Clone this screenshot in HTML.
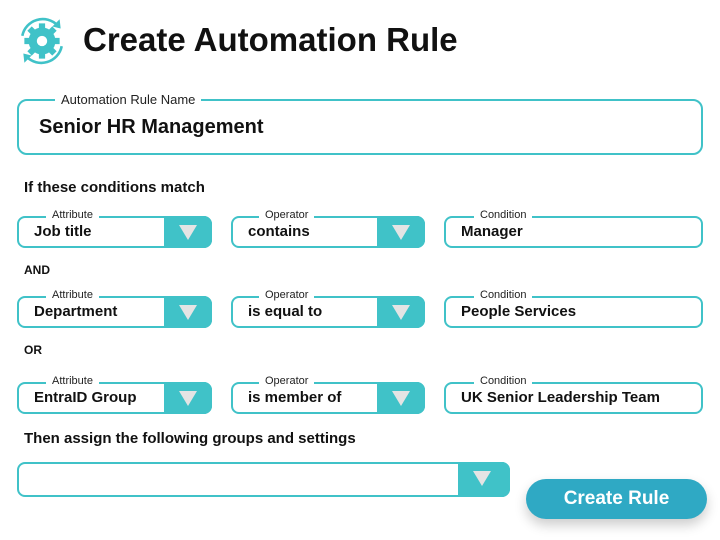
<!DOCTYPE html>
<html><head><style>
body{margin:0;width:720px;height:540px;background:#fff;font-family:"Liberation Sans",sans-serif;position:relative;overflow:hidden;color:#111}
.a{position:absolute}
.box{position:absolute;border:2px solid #40c2c8;border-radius:8px;box-sizing:border-box;background:#fff}
.lab{position:absolute;background:#fff;padding:0 6px;font-size:11px;color:#222;top:-9px}
.val{position:absolute;left:15px;font-weight:bold;font-size:15px;top:5px}
.dd{position:absolute;right:-2px;top:-2px;bottom:-2px;width:48px;background:#40c2c8;border-radius:0 8px 8px 0}
.dd:after{content:"";position:absolute;left:15px;top:9px;border-left:9px solid transparent;border-right:9px solid transparent;border-top:15px solid #e4e4e4}
.h{position:absolute;left:24px;font-weight:bold;font-size:15px}
.s{position:absolute;left:24px;font-weight:bold;font-size:12px}
</style></head><body>
<svg class="a" style="left:14px;top:13px" width="56" height="56" viewBox="0 0 54 54">
<g fill="#40c2c8"><circle cx="27" cy="27" r="13"/>
<g stroke="#40c2c8" stroke-width="6"><line x1="27" y1="10" x2="27" y2="44"/><line x1="10" y1="27" x2="44" y2="27"/><line x1="15" y1="15" x2="39" y2="39"/><line x1="39" y1="15" x2="15" y2="39"/></g></g>
<circle cx="27" cy="27" r="5" fill="#fff"/>
<path d="M8 22 A20 20 0 0 1 42 12" fill="none" stroke="#40c2c8" stroke-width="2.5"/>
<path d="M46 32 A20 20 0 0 1 12 42" fill="none" stroke="#40c2c8" stroke-width="2.5"/>
<path d="M44 6 L45 15 L37 13Z M10 48 L9 39 L17 41Z" fill="#40c2c8"/>
</svg>
<div class="a" style="left:83px;top:21px;font-size:33px;font-weight:bold">Create Automation Rule</div>
<div class="box" style="left:17px;top:99px;width:686px;height:56px;border-radius:10px"><div class="lab" style="left:36px;font-size:13px">Automation Rule Name</div><div class="val" style="left:20px;top:15px;font-size:20px">Senior HR Management</div></div>
<div class="h" style="top:179px">If these conditions match</div>
<div class="s" style="top:263px">AND</div>
<div class="s" style="top:343px">OR</div>
<div class="h" style="top:430px">Then assign the following groups and settings</div>

<div class="box" style="left:17px;top:216px;width:195px;height:32px"><div class="lab" style="left:27px">Attribute</div><div class="val">Job title</div><div class="dd"></div></div>
<div class="box" style="left:231px;top:216px;width:194px;height:32px"><div class="lab" style="left:26px">Operator</div><div class="val">contains</div><div class="dd"></div></div>
<div class="box" style="left:444px;top:216px;width:259px;height:32px"><div class="lab" style="left:28px">Condition</div><div class="val">Manager</div></div>

<div class="box" style="left:17px;top:296px;width:195px;height:32px"><div class="lab" style="left:27px">Attribute</div><div class="val">Department</div><div class="dd"></div></div>
<div class="box" style="left:231px;top:296px;width:194px;height:32px"><div class="lab" style="left:26px">Operator</div><div class="val">is equal to</div><div class="dd"></div></div>
<div class="box" style="left:444px;top:296px;width:259px;height:32px"><div class="lab" style="left:28px">Condition</div><div class="val">People Services</div></div>

<div class="box" style="left:17px;top:382px;width:195px;height:32px"><div class="lab" style="left:27px">Attribute</div><div class="val">EntraID Group</div><div class="dd"></div></div>
<div class="box" style="left:231px;top:382px;width:194px;height:32px"><div class="lab" style="left:26px">Operator</div><div class="val">is member of</div><div class="dd"></div></div>
<div class="box" style="left:444px;top:382px;width:259px;height:32px"><div class="lab" style="left:28px">Condition</div><div class="val">UK Senior Leadership Team</div></div>

<div class="box" style="left:17px;top:462px;width:493px;height:35px"><div class="dd" style="width:52px"></div></div>
<div class="a" style="left:526px;top:479px;width:181px;height:40px;border-radius:20px;background:#2fa9c4;color:#fff;font-weight:bold;font-size:19px;text-align:center;line-height:40px;box-shadow:0 6px 12px rgba(0,0,0,.2)">Create Rule</div>
</body></html>
